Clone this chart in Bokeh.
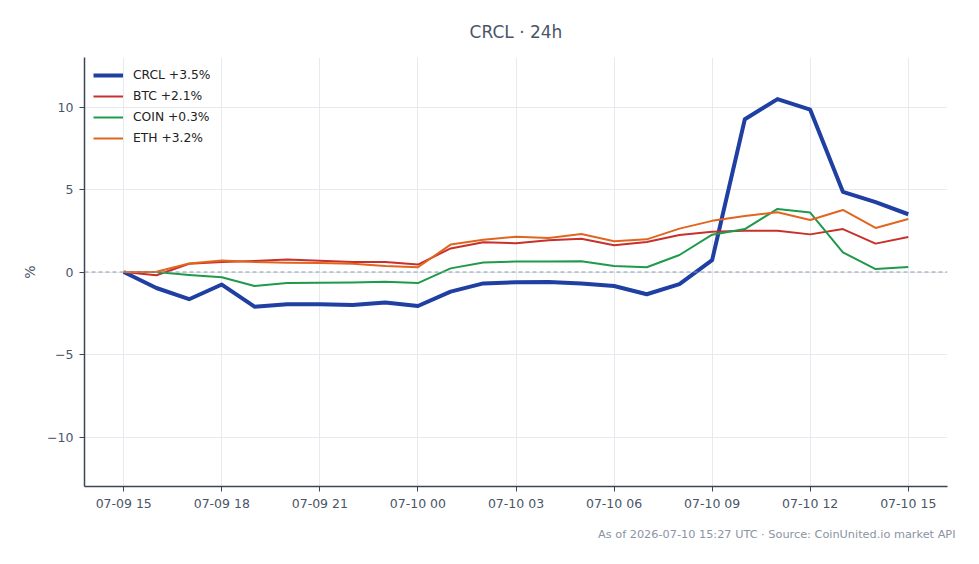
import pandas as pd
from bokeh.plotting import figure
from bokeh.models import (Span, Legend, LegendItem, DatetimeTickFormatter, FixedTicker,
                          Title, Range1d)
from bokeh.embed import file_html
from bokeh.resources import INLINE

title_text = "CRCL \u00b7 24h"
footer_text = "As of 2026-07-10 15:27 UTC \u00b7 Source: CoinUnited.io market API"

times = pd.date_range("2026-07-09 15:00", "2026-07-10 15:00", freq="h")

crcl = [0.0, -0.97, -1.65, -0.76, -2.1, -1.96, -1.95, -2.0, -1.85, -2.06,
        -1.19, -0.69, -0.62, -0.6, -0.69, -0.85, -1.35, -0.74, 0.72, 9.26,
        10.48, 9.84, 4.86, 4.23, 3.5]
btc = [0.0, -0.2, 0.5, 0.6, 0.66, 0.76, 0.68, 0.6, 0.6, 0.45,
       1.43, 1.8, 1.74, 1.92, 2.02, 1.62, 1.82, 2.24, 2.44, 2.5,
       2.5, 2.28, 2.6, 1.72, 2.12]
coin = [0.0, 0.0, -0.18, -0.32, -0.85, -0.67, -0.65, -0.63, -0.59, -0.67,
        0.22, 0.57, 0.63, 0.63, 0.65, 0.36, 0.29, 1.03, 2.26, 2.6,
        3.82, 3.6, 1.19, 0.18, 0.3]
eth = [0.0, 0.02, 0.52, 0.7, 0.6, 0.56, 0.54, 0.5, 0.36, 0.29,
       1.66, 1.96, 2.14, 2.06, 2.3, 1.86, 1.98, 2.63, 3.1, 3.39,
       3.62, 3.15, 3.76, 2.67, 3.21]

series_names = ["CRCL +3.5%", "BTC +2.1%", "COIN +0.3%", "ETH +3.2%"]
series_values = [crcl, btc, coin, eth]
series_colors = ["#1f3fa3", "#c8302c", "#1f9a4b", "#e0661f"]
series_widths = [4, 2, 2, 2]

y_ticks = [-10, -5, 0, 5, 10]
x_tick_times = pd.date_range("2026-07-09 15:00", "2026-07-10 15:00", freq="3h")

text_color = "#4a5568"
axis_color = "#3a4556"

pad = pd.Timedelta(hours=1.2)
p = figure(width=979, height=564, x_axis_type="datetime",
           output_backend="svg", toolbar_location=None,
           x_range=Range1d(times[0] - pad, times[-1] + pad),
           y_range=Range1d(-13, 13),
           min_border_left=84, min_border_right=32,
           min_border_top=57, min_border_bottom=78)
p.outline_line_color = None
p.background_fill_color = "white"
p.border_fill_color = "white"

p.title.text = title_text
p.title.align = "center"
p.title.text_font = "DejaVu Sans"
p.title.text_font_size = "17px"
p.title.text_font_style = "normal"
p.title.text_color = text_color
p.title.standoff = 31

# blank spacer between the x axis and the footer
p.add_layout(Title(text=" ", text_font_size="8.5px", standoff=0), "below")
p.add_layout(Title(text=footer_text, align="right", text_font="DejaVu Sans",
                   text_font_size="11.3px", text_font_style="normal",
                   text_color="#8a94a3", offset=-8, standoff=0), "below")

renderers = []
for vals, col, w in zip(series_values, series_colors, series_widths):
    r = p.line(times, vals, line_color=col, line_width=w, line_join="round")
    renderers.append(r)

zero = Span(location=0, dimension="width", line_color="#8a9bb0",
            line_dash="4 3", line_width=1)
p.add_layout(zero)

legend = Legend(items=[LegendItem(label=n, renderers=[r])
                       for n, r in zip(series_names, renderers)],
                location="top_left")
legend.background_fill_alpha = 0
legend.border_line_color = None
legend.label_text_font = "DejaVu Sans"
legend.label_text_font_size = "12.3px"
legend.label_text_color = "#222222"
legend.glyph_width = 30
legend.label_standoff = 10
legend.spacing = 3
legend.label_height = 18
legend.glyph_height = 18
legend.margin = 9
legend.padding = 3
p.add_layout(legend)

p.xaxis.ticker = FixedTicker(ticks=[t.value // 10**6 for t in x_tick_times])
p.xaxis.formatter = DatetimeTickFormatter(hours="%m-%d %H", days="%m-%d %H",
                                          months="%m-%d %H", hourmin="%m-%d %H")
p.yaxis.ticker = FixedTicker(ticks=y_ticks)
p.yaxis.axis_label = "%"
p.yaxis.axis_label_text_font_style = "normal"
p.yaxis.axis_label_text_font = "DejaVu Sans"
p.yaxis.axis_label_text_font_size = "14px"
p.yaxis.axis_label_text_color = text_color
p.yaxis.axis_label_standoff = 6

for ax in (p.xaxis, p.yaxis):
    ax.axis_line_color = axis_color
    ax.axis_line_width = 1.5
    ax.major_tick_line_color = axis_color
    ax.major_tick_in = 0
    ax.major_tick_out = 5
    ax.minor_tick_line_color = None
    ax.major_label_text_font = "DejaVu Sans"
    ax.major_label_text_font_size = "12.5px"
    ax.major_label_text_color = text_color
p.xaxis.major_label_standoff = 4
p.yaxis.major_label_standoff = 6

p.xgrid.grid_line_color = "#e6e9ee"
p.ygrid.grid_line_color = "#e6e9ee"
p.xgrid.grid_line_width = 1
p.ygrid.grid_line_width = 1

open("out.html", "w").write(file_html(p, INLINE))
